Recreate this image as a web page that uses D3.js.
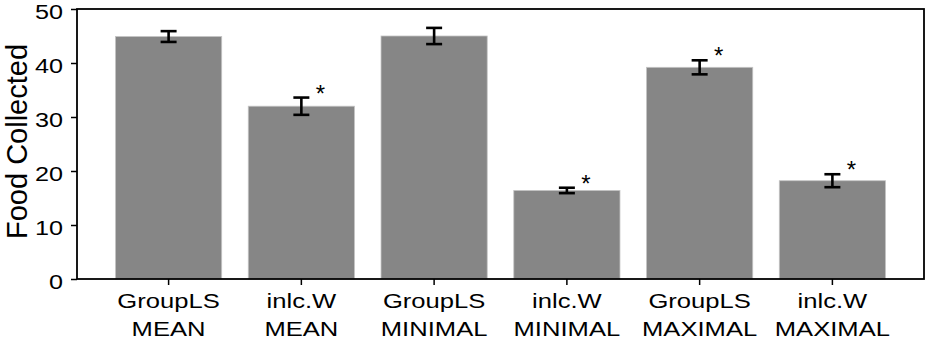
<!DOCTYPE html>
<html>
<head>
<meta charset="utf-8">
<script src="https://cdn.jsdelivr.net/npm/d3@7"></script>
<style>
  body { margin: 0; background: #fff; }
  text { font-family: "Liberation Sans", Arial, sans-serif; fill: #000; }
</style>
</head>
<body>
<div id="chart"></div>
<script>
// categories (two-line labels), means, error half-widths, significance marks
var groups = ["GroupLS", "inlc.W", "GroupLS", "inlc.W", "GroupLS", "inlc.W"];
var conditions = ["MEAN", "MEAN", "MINIMAL", "MINIMAL", "MAXIMAL", "MAXIMAL"];
var means = [44.9, 32.0, 45.0, 16.4, 39.2, 18.2];
var errors = [1.0, 1.6, 1.5, 0.5, 1.3, 1.2];
var significant = [false, true, false, true, true, true];
var yTicks = [0, 10, 20, 30, 40, 50];

var width = 926, height = 339;
var margin = {top: 9, right: 2, bottom: 60, left: 77};
var plotW = width - margin.left - margin.right,
    plotH = height - margin.top - margin.bottom;

var svg = d3.select("#chart").append("svg")
    .attr("width", width)
    .attr("height", height);

var g = svg.append("g")
    .attr("transform", "translate(" + margin.left + "," + margin.top + ")");

var data = groups.map(function (d, i) {
    return {key: i, group: d, cond: conditions[i], mean: means[i], err: errors[i], sig: significant[i]};
});

var x = d3.scaleBand()
    .domain(data.map(function (d) { return d.key; }))
    .range([0, plotW])
    .paddingInner(0.2)
    .paddingOuter(0.29);

var y = d3.scaleLinear()
    .domain([0, 50])
    .range([plotH, 0]);

// bars
g.selectAll(".bar")
    .data(data)
    .enter().append("rect")
    .attr("class", "bar")
    .attr("x", function (d) { return x(d.key); })
    .attr("y", function (d) { return y(d.mean); })
    .attr("width", x.bandwidth())
    .attr("height", function (d) { return plotH - y(d.mean); })
    .attr("fill", "#868686")
    .attr("stroke", "#c4c4c4")
    .attr("stroke-width", 0.8);

// error bars
var capW = 8;
var eb = g.selectAll(".err")
    .data(data)
    .enter().append("g")
    .attr("class", "err")
    .attr("stroke", "#000")
    .attr("stroke-width", 2.6);

eb.append("line")
    .attr("x1", function (d) { return x(d.key) + x.bandwidth() / 2; })
    .attr("x2", function (d) { return x(d.key) + x.bandwidth() / 2; })
    .attr("y1", function (d) { return y(d.mean - d.err); })
    .attr("y2", function (d) { return y(d.mean + d.err); });

[1, -1].forEach(function (s) {
    eb.append("line")
        .attr("x1", function (d) { return x(d.key) + x.bandwidth() / 2 - capW; })
        .attr("x2", function (d) { return x(d.key) + x.bandwidth() / 2 + capW; })
        .attr("y1", function (d) { return y(d.mean + s * d.err); })
        .attr("y2", function (d) { return y(d.mean + s * d.err); });
});

// significance stars
g.selectAll(".star")
    .data(data.filter(function (d) { return d.sig; }))
    .enter().append("text")
    .attr("class", "star")
    .attr("x", function (d) { return x(d.key) + x.bandwidth() / 2 + 19; })
    .attr("y", function (d) { return y(d.mean + d.err) + 4; })
    .attr("text-anchor", "middle")
    .style("font-size", "24px")
    .text("*");

// axes
var yAxis = g.append("g")
    .call(d3.axisLeft(y).tickValues(yTicks).tickSize(6));
yAxis.selectAll("text")
    .attr("x", 0)
    .attr("transform", "translate(-14,2.5) scale(1.2,1)")
    .style("font-size", "21px");

var xAxis = g.append("g")
    .attr("transform", "translate(0," + plotH + ")")
    .call(d3.axisBottom(x).tickSize(6).tickFormat(""));

// labels are drawn a bit wide, as in the source figure
xAxis.selectAll(".tick").each(function (k) {
    var t = d3.select(this);
    t.append("text").attr("transform", "translate(0,28.5) scale(1.28,1)")
        .style("font-size", "20px").text(groups[k]);
    t.append("text").attr("transform", "translate(0,57) scale(1.28,1)")
        .style("font-size", "20px").text(conditions[k]);
});

[yAxis, xAxis].forEach(function (a) {
    a.select(".domain").remove();
    a.selectAll("line").attr("stroke", "#000").attr("stroke-width", 1.5);
});

// frame
g.append("rect")
    .attr("width", plotW)
    .attr("height", plotH)
    .attr("fill", "none")
    .attr("stroke", "#000")
    .attr("stroke-width", 1.8);

// y label
svg.append("text")
    .attr("transform", "translate(26.5,141.5) rotate(-90)")
    .attr("text-anchor", "middle")
    .style("font-size", "29px")
    .text("Food Collected");
</script>
</body>
</html>
